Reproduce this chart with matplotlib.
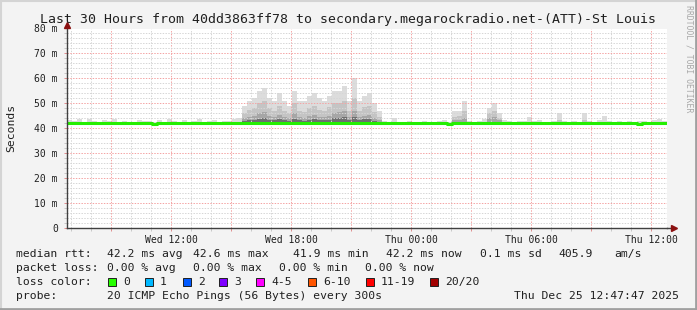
import datetime as dt
import matplotlib
matplotlib.use("Agg")
import matplotlib.pyplot as plt
import matplotlib.dates as mdates
from matplotlib.ticker import MultipleLocator, FuncFormatter
from matplotlib.lines import Line2D

# ---- data (15 minute bins) ----
start = dt.datetime(2025, 12, 24, 6, 47, 47)
end = dt.datetime(2025, 12, 25, 12, 47, 47)

smoke_max = [43.2, 42.8, 43.6, 42.5, 43.8, 43.0, 42.6, 43.4, 42.9, 43.7, 42.5, 43.1,
             42.7, 42.4, 43.5, 42.8, 43.0, 42.6, 43.3, 42.5, 43.6, 42.9, 42.7, 43.4,
             42.6, 43.0, 43.8, 42.6, 42.9, 43.5, 42.7, 43.1, 42.8, 43.6, 44.2,
             49, 51, 52, 55, 56, 52, 51, 54, 51, 49, 55, 51, 51, 53, 54, 52, 51, 53,
             55, 55, 57, 51, 60, 51, 53, 54, 50, 47,
             43.0, 42.6, 44.0, 42.6, 42.5, 42.8, 42.4, 42.7, 43.0, 42.6, 42.5, 42.9,
             43.2, 42.6, 47, 47, 51, 43.0, 42.7, 42.9, 43.6, 48, 50, 46, 43.2, 42.8,
             42.6, 42.9, 43.1, 44.5, 42.8, 43.3, 42.7, 42.6, 43.0, 46, 42.8, 42.6,
             43.1, 42.7, 46, 42.9, 42.6, 43.4, 45, 42.8, 42.6, 43.0, 42.7, 42.9, 42.6,
             42.8, 43.1, 42.7, 43.2, 43.8, 43.0]

smoke_mid = ([42.2] * 35 +
             [46, 47.5, 48, 50, 51, 48, 47, 49, 47, 46, 50, 47, 46.5, 48, 49, 47.5,
              47, 48.5, 50, 50, 51, 47, 52, 47, 48.5, 49, 46.5, 44.5] +
             [42.2] * 14 + [44.5, 45, 47] + [42.2] * 4 + [46, 47, 44] +
             [42.2] * 11 + [43.5] + [42.2] * 4 + [43.5] + [42.2] * 16)

smoke_dark = ([42.2] * 35 +
              [44, 44.5, 45, 46, 46.5, 45, 44.5, 45.5, 44.5, 44, 46, 44.5, 44, 45,
               45.5, 44.5, 44.5, 45, 46, 46.5, 47, 44.5, 47, 44.5, 45, 45.5, 44, 43.2] +
              [42.2] * 14 + [43.4, 43.5, 44] + [42.2] * 4 + [44, 44.5, 43.2] +
              [42.2] * 33)

smoke_core = ([42.2] * 35 +
              [43, 43.2, 43.5, 43.8, 44, 43.4, 43.2, 43.6, 43.3, 43, 43.8, 43.2, 43,
               43.5, 43.7, 43.3, 43.2, 43.5, 44, 44.2, 44.5, 43.2, 44.5, 43.3, 43.6,
               43.8, 43, 42.6] +
              [42.2] * 57)

smoke_min = [41.9] * 120

median_rtt = ([42.2] * 17 + [41.8] + [42.2] * 58 + [41.8] + [42.2] * 37 +
              [41.8] + [42.2] * 5)

tick_fmt = "%a %H:%M"

stats_rtt = ["42.2 ms avg", "42.6 ms max", "41.9 ms min", "42.2 ms now",
             "0.1 ms sd", "405.9", "am/s"]
stats_loss = ["0.00 % avg", "0.00 % max", "0.00 % min", "0.00 % now"]
loss_labels = ["0", "1", "2", "3", "4-5", "6-10", "11-19", "20/20"]
loss_colors = ["#26ff00", "#00b8ff", "#0059ff", "#7e00ff", "#ff00ff",
               "#ff5500", "#ff0000", "#a10000"]
probe_text = "20 ICMP Echo Pings (56 Bytes) every 300s"
stamp_text = "Thu Dec 25 12:47:47 2025"

# ---- figure ----
W, H = 697, 310
fig = plt.figure(figsize=(W / 100, H / 100), dpi=100, facecolor="#f3f3f3")
ax = fig.add_axes([67 / W, 1 - 228 / H, 600 / W, 199.5 / H])
ax.set_facecolor("white")

mono = "DejaVu Sans Mono"

bins = [start + dt.timedelta(minutes=15 * i) for i in range(len(smoke_max))]
w = 15 / 1440.0
layers = [(smoke_max, smoke_min, "#dcdcdc"),
          (smoke_mid, None, "#c4c4c4"),
          (smoke_dark, None, "#a6a6a6"),
          (smoke_core, None, "#6e6e6e")]
for k, (top, bot, col) in enumerate(layers):
    if bot is None:
        bot = [42.0] * len(top)
    ax.bar(bins, [t - b for t, b in zip(top, bot)], width=w, bottom=bot,
           align="edge", color=col, linewidth=0, zorder=1 + 0.1 * k)

ax.plot(bins + [end], median_rtt + [median_rtt[-1]], drawstyle="steps-post",
        color="#26ee00", lw=2.2, zorder=4, solid_capstyle="butt")

ax.set_xlim(start, end)
ax.set_ylim(0, 80)

ax.xaxis.set_major_locator(mdates.HourLocator(byhour=range(0, 24, 3)))
ax.xaxis.set_minor_locator(mdates.HourLocator())


def xfmt(x, pos):
    d = mdates.num2date(x)
    return d.strftime(tick_fmt) if d.hour % 6 == 0 else ""


ax.xaxis.set_major_formatter(FuncFormatter(xfmt))
ax.yaxis.set_major_locator(MultipleLocator(10))
ax.yaxis.set_minor_locator(MultipleLocator(2))
ax.yaxis.set_major_formatter(FuncFormatter(lambda v, p: "0" if v == 0 else "%d m" % v))

ax.set_axisbelow(False)
ax.grid(which="minor", color="#d6d6d6", linestyle=(0, (1.4, 1.4)), lw=0.72, zorder=2)
ax.grid(which="major", color="#f4a4a4", linestyle=(0, (1.4, 1.4)), lw=0.72, zorder=2.1)

ax.tick_params(which="both", length=2, width=0.72, color="#e09090", labelsize=7,
               pad=3)
ax.tick_params(axis="y", pad=4.5)
ax.tick_params(which="minor", color="#c8c8c8")
for lab in ax.get_xticklabels() + ax.get_yticklabels():
    lab.set_family(mono)
    lab.set_color("#202020")

for s in ["top", "right"]:
    ax.spines[s].set_visible(False)
for s in ["left", "bottom"]:
    ax.spines[s].set_color("#404040")
    ax.spines[s].set_linewidth(1.0)
    ax.spines[s].set_zorder(5)

# axis arrows
ax.plot([1.0, 1.008], [0, 0], transform=ax.transAxes, color="#404040", lw=1, clip_on=False)
ax.plot([1.012], [0], marker=">", ms=4, color="#8b1010", transform=ax.transAxes,
        clip_on=False, zorder=6)
ax.plot([0], [1.018], marker="^", ms=4, color="#8b1010", transform=ax.transAxes,
        clip_on=False, zorder=6)


def px(x, y):
    return x / W, 1 - y / H


fig.text(*px(348, 19), "Last 30 Hours from 40dd3863ff78 to secondary.megarockradio.net-(ATT)-St Louis",
         ha="center", va="center", family=mono, fontsize=9.55, color="#202020")
fig.text(*px(11, 128), "Seconds", rotation=90, ha="center", va="center",
         family=mono, fontsize=8.2, color="#202020")
fig.text(*px(689, 5), "RRDTOOL / TOBI OETIKER", rotation=-90, ha="center", va="top",
         family=mono, fontsize=5.9, color="#a8a8a8")

fs = 8.2
tc = "#202020"
rows = [254, 268, 282, 296]
fig.text(*px(16, rows[0]), "median rtt:", family=mono, fontsize=fs, va="center", color=tc)
for x, s in zip([107, 193, 293, 386, 480, 558, 614], stats_rtt):
    fig.text(*px(x, rows[0]), s, family=mono, fontsize=fs, va="center", color=tc)

fig.text(*px(16, rows[1]), "packet loss:", family=mono, fontsize=fs, va="center", color=tc)
for x, s in zip([107, 193, 279, 365], stats_loss):
    fig.text(*px(x, rows[1]), s, family=mono, fontsize=fs, va="center", color=tc)

fig.text(*px(16, rows[2]), "loss color:", family=mono, fontsize=fs, va="center", color=tc)
for x, s, c in zip([108, 145, 183, 219, 256, 308, 366, 430], loss_labels, loss_colors):
    fig.patches.append(plt.Rectangle(px(x, rows[2] + 4), 8 / W, 8 / H,
                                     transform=fig.transFigure, facecolor=c,
                                     edgecolor="#202020", lw=0.7))
    fig.text(*px(x + 15, rows[2]), s, family=mono, fontsize=fs, va="center", color=tc)

fig.text(*px(16, rows[3]), "probe:", family=mono, fontsize=fs, va="center", color=tc)
fig.text(*px(107, rows[3]), probe_text, family=mono, fontsize=fs, va="center", color=tc)
fig.text(*px(514, rows[3]), stamp_text, family=mono, fontsize=fs, va="center", color=tc)

# frame
fig.add_artist(Line2D([0, 1], [1 - 1 / H, 1 - 1 / H], color="#d4d4d4", lw=1.5))
fig.add_artist(Line2D([1 / W, 1 / W], [0, 1], color="#d4d4d4", lw=1.5))
fig.add_artist(Line2D([0, 1], [1.5 / H, 1.5 / H], color="#a0a0a0", lw=2))
fig.add_artist(Line2D([1 - 1.5 / W, 1 - 1.5 / W], [0, 1], color="#a0a0a0", lw=2))

fig.savefig("out.png", dpi=100, facecolor=fig.get_facecolor())
